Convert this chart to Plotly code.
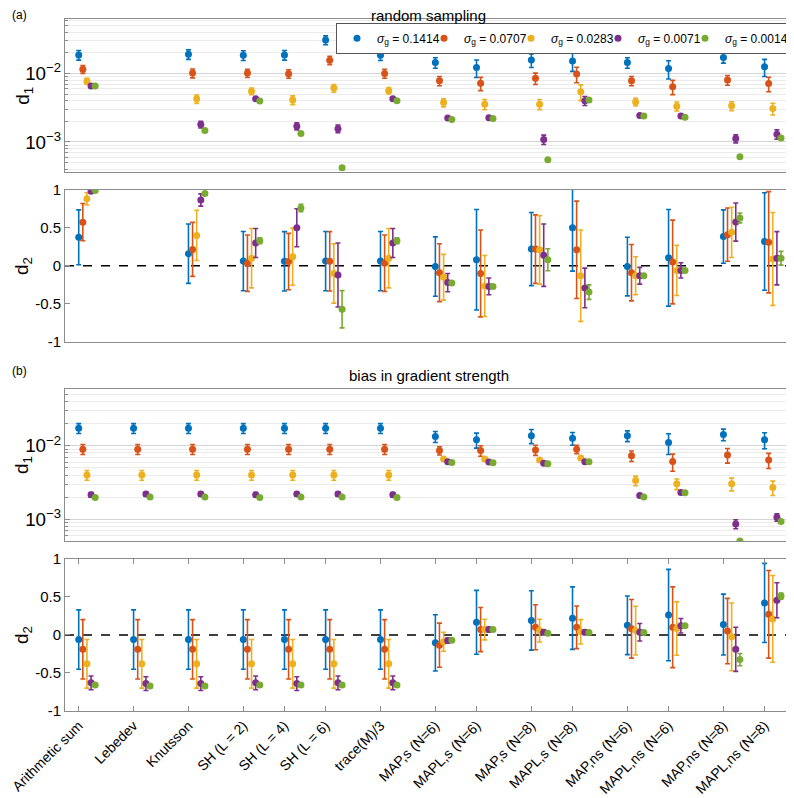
import plotly.graph_objects as go

categories = ["Arithmetic sum", "Lebedev", "Knutsson", "SH (L = 2)", "SH (L = 4)", "SH (L = 6)",
              "trace(M)/3", "MAP,s (N=6)", "MAPL,s (N=6)", "MAP,s (N=8)", "MAPL,s (N=8)",
              "MAP,ns (N=6)", "MAPL,ns (N=6)", "MAP,ns (N=8)", "MAPL,ns (N=8)"]
cat_pos = [0, 4, 8, 12, 15, 18, 22, 26, 29, 33, 36, 40, 43, 47, 50]
sigmas = ["0.1414", "0.0707", "0.0283", "0.0071", "0.0014"]

# (a) random sampling, d1  (Lebedev not available)
a_d1_blue = [0.0186, None, 0.019, 0.0184, 0.0186, 0.0307, 0.0184, 0.0144, 0.0122, 0.0157, 0.0152, 0.0144, 0.0118, 0.0171, 0.0125]
a_d1_blue_err = [0.003, None, 0.003, 0.003, 0.003, 0.0045, 0.003, 0.0025, 0.0035, 0.0035, 0.0045, 0.0025, 0.0035, 0.003, 0.0035]
a_d1_orange = [0.0115, None, 0.0101, 0.0101, 0.0099, 0.0156, 0.0100, 0.0078, 0.0072, 0.0085, 0.0098, 0.0078, 0.0064, 0.0080, 0.0071]
a_d1_orange_err = [0.0015, None, 0.0015, 0.0014, 0.0014, 0.0022, 0.0015, 0.0012, 0.0016, 0.0016, 0.0025, 0.0012, 0.0015, 0.0013, 0.0017]
a_d1_yellow = [0.0077, None, 0.00425, 0.0055, 0.0041, 0.0061, 0.0056, 0.00375, 0.00356, 0.00356, 0.0054, 0.00384, 0.00333, 0.00336, 0.00307]
a_d1_yellow_err = [0.0008, None, 0.0006, 0.0006, 0.0006, 0.0008, 0.0006, 0.0005, 0.0006, 0.0006, 0.0014, 0.0005, 0.0005, 0.0005, 0.0006]
a_d1_purple = [0.00655, None, 0.0018, 0.00425, 0.0017, 0.00156, 0.00425, 0.00223, 0.00225, 0.00109, 0.0040, 0.00243, 0.0024, 0.00112, 0.0013]
a_d1_purple_err = [0.0003, None, 0.0002, 0.0002, 0.0002, 0.0002, 0.0002, 0.0001, 0.0001, 0.00017, 0.0006, 0.0001, 0.0001, 0.00015, 0.0002]
a_d1_green = [0.00655, None, 0.00147, 0.00397, 0.00133, 0.00042, 0.0040, 0.00213, 0.0022, 0.00055, 0.0041, 0.0024, 0.00229, 0.00061, 0.00114]
a_d1_green_err = [0.0001, None, 0.00003, 0.00005, 0.00003, 0.00003, 0.00005, 0.00003, 0.00003, 0.00002, 0.00005, 0.00003, 0.00003, 0.00002, 0.00003]

# (a) random sampling, d2
a_d2_blue = [0.375, None, 0.16, 0.062, 0.06, 0.062, 0.062, -0.01, 0.08, 0.22, 0.50, -0.01, 0.106, 0.385, 0.32]
a_d2_blue_err = [0.36, None, 0.39, 0.39, 0.39, 0.39, 0.39, 0.39, 0.66, 0.48, 0.57, 0.385, 0.635, 0.35, 0.64]
a_d2_orange = [0.574, None, 0.216, 0.035, 0.056, 0.06, 0.035, -0.09, -0.10, 0.22, 0.21, -0.09, 0.05, 0.41, 0.31]
a_d2_orange_err = [0.245, None, 0.355, 0.37, 0.37, 0.39, 0.37, 0.38, 0.57, 0.45, 0.64, 0.37, 0.55, 0.35, 0.665]
a_d2_yellow = [0.88, None, 0.40, 0.10, 0.12, -0.10, 0.10, -0.15, -0.265, 0.21, -0.13, -0.13, -0.06, 0.44, 0.09]
a_d2_yellow_err = [0.08, None, 0.33, 0.39, 0.375, 0.39, 0.39, 0.30, 0.40, 0.45, 0.60, 0.25, 0.33, 0.33, 0.61]
a_d2_purple = [0.98, None, 0.865, 0.30, 0.50, -0.12, 0.30, -0.22, -0.27, 0.14, -0.29, -0.13, -0.06, 0.575, 0.10]
a_d2_purple_err = [0.01, None, 0.08, 0.19, 0.25, 0.42, 0.19, 0.12, 0.11, 0.41, 0.26, 0.11, 0.10, 0.25, 0.35]
a_d2_green = [0.99, None, 0.95, 0.33, 0.76, -0.57, 0.33, -0.225, -0.27, 0.08, -0.345, -0.13, -0.06, 0.63, 0.10]
a_d2_green_err = [0.005, None, 0.01, 0.04, 0.05, 0.245, 0.04, 0.02, 0.02, 0.145, 0.095, 0.015, 0.01, 0.065, 0.09]

# (b) bias in gradient strength, d1
b_d1_blue = [0.0174, 0.0174, 0.0174, 0.0174, 0.0174, 0.0174, 0.0174, 0.0134, 0.0121, 0.0137, 0.0127, 0.0137, 0.0111, 0.0143, 0.0121]
b_d1_blue_err = [0.0027, 0.0027, 0.0027, 0.0027, 0.0027, 0.0027, 0.0027, 0.0023, 0.0028, 0.003, 0.0025, 0.0023, 0.0035, 0.0026, 0.003]
b_d1_orange = [0.0090, 0.0090, 0.0090, 0.0090, 0.0090, 0.0090, 0.0090, 0.0086, 0.0086, 0.0088, 0.0090, 0.0073, 0.0061, 0.0075, 0.0064]
b_d1_orange_err = [0.0014, 0.0014, 0.0014, 0.0014, 0.0014, 0.0014, 0.0014, 0.0011, 0.0014, 0.0014, 0.0012, 0.0012, 0.0016, 0.0017, 0.0015]
b_d1_yellow = [0.0040, 0.0040, 0.0040, 0.0040, 0.0040, 0.0040, 0.0040, 0.0066, 0.0066, 0.0064, 0.0068, 0.00336, 0.00303, 0.00303, 0.0027]
b_d1_yellow_err = [0.0006, 0.0006, 0.0006, 0.0006, 0.0006, 0.0006, 0.0006, 0.0003, 0.0003, 0.0003, 0.0003, 0.0005, 0.0005, 0.0006, 0.0006]
b_d1_purple = [0.00215, 0.0022, 0.0022, 0.00215, 0.0022, 0.0022, 0.00215, 0.00605, 0.0060, 0.0058, 0.00605, 0.0021, 0.00231, 0.00086, 0.00106]
b_d1_purple_err = [0.00015, 0.00015, 0.00015, 0.00015, 0.00015, 0.00015, 0.00015, 0.0001, 0.0001, 0.0001, 0.0001, 0.0001, 0.0001, 0.00012, 0.00012]
b_d1_green = [0.00197, 0.002, 0.002, 0.00197, 0.002, 0.002, 0.00197, 0.00592, 0.0059, 0.00568, 0.00605, 0.0020, 0.0023, 0.000506, 0.00093]
b_d1_green_err = [0.00003, 0.00003, 0.00003, 0.00003, 0.00003, 0.00003, 0.00003, 0.00005, 0.00005, 0.00005, 0.00005, 0.00003, 0.00003, 0.00001, 0.00003]

# (b) bias in gradient strength, d2
b_d2_blue = [-0.062, -0.062, -0.062, -0.062, -0.062, -0.062, -0.062, -0.105, 0.165, 0.19, 0.22, 0.126, 0.26, 0.135, 0.42]
b_d2_blue_err = [0.39, 0.39, 0.39, 0.39, 0.39, 0.39, 0.39, 0.37, 0.42, 0.39, 0.41, 0.385, 0.60, 0.40, 0.52]
b_d2_orange = [-0.19, -0.19, -0.19, -0.19, -0.19, -0.19, -0.19, -0.135, 0.07, 0.10, 0.10, 0.08, 0.10, 0.05, 0.27]
b_d2_orange_err = [0.39, 0.39, 0.39, 0.39, 0.39, 0.39, 0.39, 0.29, 0.29, 0.295, 0.28, 0.385, 0.53, 0.43, 0.575]
b_d2_yellow = [-0.38, -0.38, -0.38, -0.38, -0.38, -0.38, -0.38, -0.09, 0.07, 0.056, 0.04, 0.056, 0.083, -0.026, 0.21]
b_d2_yellow_err = [0.32, 0.32, 0.32, 0.32, 0.32, 0.32, 0.32, 0.125, 0.135, 0.15, 0.16, 0.32, 0.35, 0.445, 0.57]
b_d2_purple = [-0.63, -0.64, -0.64, -0.63, -0.64, -0.63, -0.63, -0.075, 0.07, 0.035, 0.035, 0.035, 0.12, -0.19, 0.455]
b_d2_purple_err = [0.09, 0.09, 0.09, 0.09, 0.09, 0.09, 0.09, 0.03, 0.03, 0.03, 0.03, 0.115, 0.095, 0.29, 0.23]
b_d2_green = [-0.66, -0.67, -0.67, -0.66, -0.66, -0.66, -0.66, -0.07, 0.07, 0.02, 0.03, 0.03, 0.12, -0.325, 0.51]
b_d2_green_err = [0.02, 0.02, 0.02, 0.02, 0.02, 0.02, 0.02, 0.01, 0.01, 0.01, 0.01, 0.01, 0.01, 0.08, 0.04]

colors = ["#0072BD", "#D95319", "#EDB120", "#7E2F8E", "#77AC30"]
offsets = [0, 0.3, 0.6, 0.9, 1.2]

panels = [
    ("y", [a_d1_blue, a_d1_orange, a_d1_yellow, a_d1_purple, a_d1_green],
     [a_d1_blue_err, a_d1_orange_err, a_d1_yellow_err, a_d1_purple_err, a_d1_green_err]),
    ("y2", [a_d2_blue, a_d2_orange, a_d2_yellow, a_d2_purple, a_d2_green],
     [a_d2_blue_err, a_d2_orange_err, a_d2_yellow_err, a_d2_purple_err, a_d2_green_err]),
    ("y3", [b_d1_blue, b_d1_orange, b_d1_yellow, b_d1_purple, b_d1_green],
     [b_d1_blue_err, b_d1_orange_err, b_d1_yellow_err, b_d1_purple_err, b_d1_green_err]),
    ("y4", [b_d2_blue, b_d2_orange, b_d2_yellow, b_d2_purple, b_d2_green],
     [b_d2_blue_err, b_d2_orange_err, b_d2_yellow_err, b_d2_purple_err, b_d2_green_err]),
]
xrefs = ["x", "x2", "x3", "x4"]

fig = go.Figure()
for p, (yref, vals, errs) in enumerate(panels):
    for s in range(5):
        fig.add_trace(go.Scatter(
            x=[c + offsets[s] for c in cat_pos], y=vals[s],
            mode="markers", xaxis=xrefs[p], yaxis=yref,
            marker=dict(color=colors[s], size=7),
            error_y=dict(type="data", array=errs[s], color=colors[s], thickness=1.6, width=2.5),
            name="<i>σ</i><sub>g</sub> = " + sigmas[s], showlegend=(p == 0),
            legendwidth=57 if s == 4 else 42))

frame = "#8c8c8c"
font = "Liberation Sans, Arial, sans-serif"
doms = [[0.7787, 1.0], [0.5333, 0.7533], [0.2454, 0.4659], [0.0, 0.22]]

xbase = dict(range=[-1, 52], showgrid=False, zeroline=False, showline=True, mirror=True,
             linecolor=frame, linewidth=1)
lay = dict()
for i in range(4):
    key = "xaxis" if i == 0 else "xaxis%d" % (i + 1)
    ax = dict(xbase, anchor="y" if i == 0 else "y%d" % (i + 1))
    if i == 3:
        ax.update(tickvals=cat_pos, ticktext=categories, ticks="inside", ticklen=5, mirror="ticks",
                  tickcolor=frame, tickangle=-45, tickfont=dict(size=14, color="#000"),
                  ticklabeloverflow="allow")
    else:
        ax.update(showticklabels=False, ticks="")
    lay[key] = ax

logax = dict(type="log", showline=True, mirror="ticks", linecolor=frame, zeroline=False,
             ticks="inside", ticklen=5, tickcolor=frame, dtick=1, exponentformat="power",
             showgrid=True, gridcolor="#d4d4d4", tickfont=dict(size=15, color="#000"),
             minor=dict(dtick="D1", showgrid=True, gridcolor="#ebebeb", ticks="inside",
                        ticklen=3, tickcolor=frame))
linax = dict(range=[-1, 1], showline=True, mirror="ticks", linecolor=frame, zeroline=False,
             showgrid=False, ticks="inside", ticklen=5, tickcolor=frame,
             tickvals=[-1, -0.5, 0, 0.5, 1], ticktext=["-1", "-0.5", "0", "0.5", "1"],
             tickfont=dict(size=15, color="#000"))
lay["yaxis"] = dict(logax, domain=doms[0], range=[-3.44, -1.207], anchor="x")
lay["yaxis2"] = dict(linax, domain=doms[1], anchor="x2")
lay["yaxis3"] = dict(logax, domain=doms[2], range=[-3.30, -1.22], anchor="x3")
lay["yaxis4"] = dict(linax, domain=doms[3], anchor="x4")

fig.update_layout(**lay)

for xr, yr in [("x2", "y2"), ("x4", "y4")]:
    fig.add_shape(type="line", xref=xr + " domain", yref=yr, x0=0, x1=1, y0=0, y1=0,
                  line=dict(color="black", width=1.5, dash="dash"), layer="below")

# panel titles and labels (page body adds 8px, so figure is 786x790)
for txt, yy in [("random sampling", 1.0055), ("bias in gradient strength", 0.4846)]:
    fig.add_annotation(text=txt, x=0.5, y=yy, xref="paper", yref="paper", showarrow=False,
                       font=dict(size=15, color="#000"), yanchor="middle")
for lbl, yy in [("(a)", 1.0065), ("(b)", 0.4908)]:
    fig.add_annotation(text=lbl, x=-0.0753, y=yy, xref="paper", yref="paper", showarrow=False,
                       xanchor="left", yanchor="middle", font=dict(size=12, color="#000"))
for lbl, d in zip(["d<sub>1</sub>", "d<sub>2</sub>", "d<sub>1</sub>", "d<sub>2</sub>"], doms):
    fig.add_annotation(text=lbl, x=-0.0575, y=(d[0] + d[1]) / 2, xref="paper", yref="paper",
                       showarrow=False, textangle=-90, xanchor="center", yanchor="middle",
                       font=dict(size=19, color="#000"))

fig.update_layout(
    width=786, height=790,
    margin=dict(l=55, r=1, t=11, b=86),
    paper_bgcolor="white", plot_bgcolor="white",
    font=dict(family=font, color="#000"),
    legend=dict(orientation="h", x=0.9945, y=0.9947, xanchor="right", yanchor="top",
                bgcolor="white", bordercolor="#555", borderwidth=1, font=dict(size=12),
                itemwidth=30, tracegroupgap=0),
)

fig.write_html("out.html")
